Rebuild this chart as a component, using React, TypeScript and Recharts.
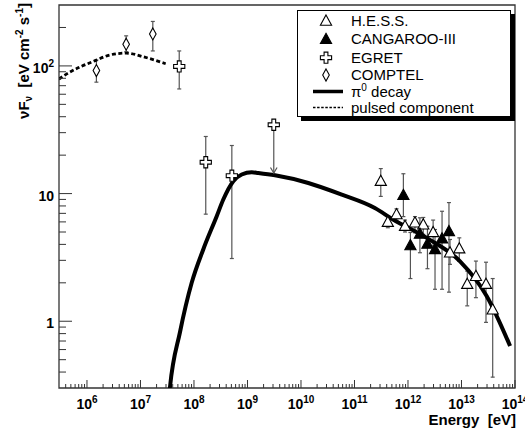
import React from 'react';
import {
  ComposedChart,
  Line,
  Scatter,
  XAxis,
  YAxis,
  ErrorBar,
  ReferenceArea,
  Legend,
} from 'recharts';

const FONT = "'Liberation Sans', Arial, Helvetica, sans-serif";

// ---------- data ----------
const comptelE = [1.5e6, 5.4e6, 1.7e7];
const comptelF = [92, 148, 178];
const comptelLo = [74.6, 129, 131];
const comptelHi = [111, 172, 223];

const egretE = [5.3e7, 1.66e8, 5.1e8];
const egretF = [99, 17.6, 13.8];
const egretLo = [66, 6.9, 3.1];
const egretHi = [131, 28, 23.8];

const egretUlE = [3.1e9];
const egretUlF = [34.6];
const egretUlTo = [14.5];

const hessE = [3.1e11, 4.2e11, 6.1e11, 8.8e11, 1.35e12, 1.93e12, 2.95e12, 6.1e12, 9.1e12, 1.28e13, 1.86e13, 2.87e13, 3.83e13];
const hessF = [12.5, 5.97, 6.85, 5.55, 5.9, 5.7, 4.96, 3.44, 3.7, 1.95, 2.25, 1.95, 1.23];
const hessLo = [9.5, 5.4, 6.2, 5.0, 4.93, 4.8, 3.9, 2.79, 2.94, 1.32, 1.53, 0.98, 0.365];
const hessHi = [15.7, 6.6, 7.6, 6.2, 6.6, 6.5, 6.2, 4.37, 4.5, 2.47, 2.96, 2.9, 2.16];

const cangE = [8.2e11, 1.11e12, 1.67e12, 2.31e12, 3.2e12, 4.33e12, 5.83e12];
const cangF = [9.7, 3.92, 4.83, 4.03, 3.65, 4.43, 5.05];
const cangLo = [6.6, 2.16, 3.44, 2.58, 1.78, 1.78, 1.69];
const cangHi = [14.3, 4.96, 6.46, 5.55, 5.23, 7.27, 8.5];

const pi0E = [3.4e7, 3.56e7, 5.47e7, 9.06e7, 1.49e8, 2.66e8, 3.53e8, 5.43e8, 7.8e8, 1.2e9, 1.59e9, 3.27e9, 1.37e10, 5.8e10, 2.4e11, 5.25e11, 2.24e12, 9.3e12, 2.95e13, 8.1e13];
const pi0F = [0.25, 0.305, 0.82, 2.0, 3.65, 6.65, 8.98, 12.5, 14.1, 14.7, 14.5, 13.9, 12.1, 9.8, 7.7, 6.27, 4.5, 2.96, 1.58, 0.64];

const pulsedE = [3.0e5, 4.2e5, 1.5e6, 2.7e6, 5.4e6, 1.2e7, 2.96e7];
const pulsedF = [79, 86.6, 111, 122, 126, 117, 104];

const X_MAJOR = [1e6, 1e7, 1e8, 1e9, 1e10, 1e11, 1e12, 1e13, 1e14];
const X_DECADES = [1e5, 1e6, 1e7, 1e8, 1e9, 1e10, 1e11, 1e12, 1e13];
const Y_MAJOR = [1, 10, 100];
const Y_DECADES = [0.1, 1, 10, 100];
const MINOR_MULT = [2, 3, 4, 5, 6, 7, 8, 9];

const X_DOMAIN = [3e5, 1e14];
const Y_DOMAIN = [0.3, 300];

const xTicks = [
  ...X_MAJOR,
  ...X_DECADES.flatMap((b) => MINOR_MULT.map((m) => m * b)).filter((v) => v > X_DOMAIN[0] && v < X_DOMAIN[1]),
];
const yTicks = [
  ...Y_MAJOR,
  ...Y_DECADES.flatMap((b) => MINOR_MULT.map((m) => m * b)).filter((v) => v > Y_DOMAIN[0] * 1.01 && v < Y_DOMAIN[1] * 0.99),
];

const withErr = (E: number[], F: number[], lo: number[], hi: number[]) =>
  E.map((e, i) => ({ e, f: F[i], err: [F[i] - lo[i], hi[i] - F[i]] }));

const comptelData = withErr(comptelE, comptelF, comptelLo, comptelHi);
const egretData = withErr(egretE, egretF, egretLo, egretHi);
const hessData = withErr(hessE, hessF, hessLo, hessHi);
const cangData = withErr(cangE, cangF, cangLo, cangHi);
const egretUlData = egretUlE.map((e, i) => ({ e, f: egretUlF[i], err: [egretUlF[i] - egretUlTo[i], 0] }));
const egretArrowData = egretUlE.map((e, i) => ({ e, f: egretUlTo[i] }));
const pi0Data = pi0E.map((e, i) => ({ e, f: pi0F[i] }));
const pulsedData = pulsedE.map((e, i) => ({ e, f: pulsedF[i] }));

// ---------- marker shapes ----------
const triPath = (cx: number, cy: number) =>
  `M${cx},${cy - 6} L${cx + 5.6},${cy + 4.2} L${cx - 5.6},${cy + 4.2} Z`;
const crossPath = (cx: number, cy: number) => {
  const a = 1.9;
  const b = 5.6;
  return `M${cx - a},${cy - b} L${cx + a},${cy - b} L${cx + a},${cy - a} L${cx + b},${cy - a} L${cx + b},${cy + a} L${cx + a},${cy + a} L${cx + a},${cy + b} L${cx - a},${cy + b} L${cx - a},${cy + a} L${cx - b},${cy + a} L${cx - b},${cy - a} L${cx - a},${cy - a} Z`;
};
const diamondPath = (cx: number, cy: number) =>
  `M${cx},${cy - 6} L${cx + 3.3},${cy} L${cx},${cy + 6} L${cx - 3.3},${cy} Z`;

const OpenTri = (p: any) => <path d={triPath(p.cx, p.cy)} fill="#fff" stroke="#000" strokeWidth={1.1} />;
const FullTri = (p: any) => <path d={triPath(p.cx, p.cy)} fill="#000" stroke="#000" strokeWidth={1.1} />;
const OpenCross = (p: any) => <path d={crossPath(p.cx, p.cy)} fill="#fff" stroke="#000" strokeWidth={1.1} />;
const OpenDiamond = (p: any) => <path d={diamondPath(p.cx, p.cy)} fill="#fff" stroke="#000" strokeWidth={1.1} />;
const ArrowHead = (p: any) => (
  <path d={`M${p.cx - 3.3},${p.cy - 5.5} L${p.cx},${p.cy} L${p.cx + 3.3},${p.cy - 5.5}`} fill="none" stroke="#555" strokeWidth={1.2} />
);

// ---------- axis ticks ----------
const XTick = (props: any) => {
  const { x, y, payload } = props;
  const v = payload.value;
  const major = X_MAJOR.includes(v);
  const exp = Math.round(Math.log10(v));
  return (
    <g>
      <line x1={x} x2={x} y1={y} y2={y - (major ? 8 : 4)} stroke="#333" strokeWidth={1} />
      {major && (
        <text x={x} y={y + 21} textAnchor="middle" fontFamily={FONT} fontWeight="bold" fontSize={14} fill="#000">
          <tspan>10</tspan>
          <tspan dy={-6} fontSize={10}>{exp}</tspan>
        </text>
      )}
    </g>
  );
};

const YTick = (props: any) => {
  const { x, y, payload } = props;
  const v = payload.value;
  const major = Y_MAJOR.includes(v);
  const exp = Math.round(Math.log10(v));
  return (
    <g>
      <line x1={x} x2={x + (major ? 13 : 7)} y1={y} y2={y} stroke="#333" strokeWidth={1} />
      {major && (
        <text x={x - 5} y={y + 7} textAnchor="end" fontFamily={FONT} fontWeight="bold" fontSize={14} fill="#000">
          {exp <= 1 ? (
            <tspan>{exp === 0 ? '1' : '10'}</tspan>
          ) : (
            <>
              <tspan>10</tspan>
              <tspan dy={-6} fontSize={10}>{exp}</tspan>
            </>
          )}
        </text>
      )}
    </g>
  );
};

const YTitle = () => (
  <text
    transform="translate(29,3) rotate(-90)"
    textAnchor="end"
    fontFamily={FONT}
    fontWeight="bold"
    fontSize={15}
    fill="#000"
    style={{ whiteSpace: 'pre' }}
  >
    <tspan>νF</tspan>
    <tspan dy={3} fontSize={10}>ν</tspan>
    <tspan dy={-3}>  [eV cm</tspan>
    <tspan dy={-6} fontSize={10}>-2</tspan>
    <tspan dy={6}> s</tspan>
    <tspan dy={-6} fontSize={10}>-1</tspan>
    <tspan dy={6}>]</tspan>
  </text>
);

const XTitle = () => (
  <text x={516} y={425} textAnchor="end" fontFamily={FONT} fontWeight="bold" fontSize={15} fill="#000" style={{ whiteSpace: 'pre' }}>
    Energy  [eV]
  </text>
);

// ---------- legend ----------
const legendRows = ['H.E.S.S.', 'CANGAROO-III', 'EGRET', 'COMPTEL', 'decay', 'pulsed component'];
const rowBase = [15, 33.3, 51.7, 69, 85.5, 101.5];

const LegendBox = () => (
  <div
    style={{
      width: 214,
      height: 107,
      boxSizing: 'border-box',
      border: '1px solid #000',
      background: '#fff',
      boxShadow: '4px 4px 0 #000',
    }}
  >
    <svg width={212} height={105} style={{ display: 'block', overflow: 'visible' }}>
      <path d={triPath(28, rowBase[0] - 5)} fill="#fff" stroke="#000" strokeWidth={1.1} />
      <path d={triPath(28, rowBase[1] - 5)} fill="#000" stroke="#000" strokeWidth={1.1} />
      <path d={crossPath(28, rowBase[2] - 5)} fill="#fff" stroke="#000" strokeWidth={1.1} />
      <path d={diamondPath(28, rowBase[3] - 5)} fill="#fff" stroke="#000" strokeWidth={1.1} />
      <line x1={15} x2={45} y1={rowBase[4] - 5} y2={rowBase[4] - 5} stroke="#000" strokeWidth={3.5} />
      <line x1={15} x2={45} y1={rowBase[5] - 5} y2={rowBase[5] - 5} stroke="#000" strokeWidth={1.6} strokeDasharray="2.5 1.6" />
      {legendRows.map((t, i) => (
        <text key={t} x={53} y={rowBase[i]} fontFamily={FONT} fontSize={15} fill="#000">
          {i === 4 ? (
            <>
              <tspan>π</tspan>
              <tspan dy={-6} fontSize={10}>0</tspan>
              <tspan dy={6}> decay</tspan>
            </>
          ) : (
            t
          )}
        </text>
      ))}
    </svg>
  </div>
);

export default function App() {
  return (
    <div style={{ position: 'absolute', left: 0, top: 0, width: 525, height: 432, background: '#fff' }}>
      <ComposedChart width={525} height={432} margin={{ top: 5, right: 10, bottom: 0, left: 0 }}>
        <XAxis
          dataKey="e"
          type="number"
          scale="log"
          domain={X_DOMAIN}
          allowDataOverflow
          ticks={xTicks}
          interval={0}
          tick={<XTick />}
          tickLine={false}
          tickSize={0}
          tickMargin={0}
          axisLine={false}
          height={44}
          label={{ content: () => <XTitle /> }}
        />
        <YAxis
          dataKey="f"
          type="number"
          scale="log"
          domain={Y_DOMAIN}
          allowDataOverflow
          ticks={yTicks}
          interval={0}
          tick={<YTick />}
          tickLine={false}
          tickSize={0}
          tickMargin={0}
          axisLine={false}
          width={59}
          label={{ content: () => <YTitle /> }}
        />
        <ReferenceArea
          x1={X_DOMAIN[0]}
          x2={X_DOMAIN[1]}
          y1={Y_DOMAIN[0]}
          y2={Y_DOMAIN[1]}
          fill="none"
          stroke="#333"
          strokeWidth={1.3}
          ifOverflow="visible"
        />
        <Scatter data={comptelData} dataKey="f" shape={<OpenDiamond />} isAnimationActive={false}>
          <ErrorBar dataKey="err" direction="y" width={2} stroke="#555" strokeWidth={1.2} />
        </Scatter>
        <Scatter data={egretData} dataKey="f" shape={<OpenCross />} isAnimationActive={false}>
          <ErrorBar dataKey="err" direction="y" width={2} stroke="#555" strokeWidth={1.2} />
        </Scatter>
        <Scatter data={egretUlData} dataKey="f" shape={<OpenCross />} isAnimationActive={false}>
          <ErrorBar dataKey="err" direction="y" width={0} stroke="#555" strokeWidth={1.2} />
        </Scatter>
        <Scatter data={egretArrowData} dataKey="f" shape={<ArrowHead />} isAnimationActive={false} />
        <Scatter data={hessData} dataKey="f" shape={<OpenTri />} isAnimationActive={false}>
          <ErrorBar dataKey="err" direction="y" width={2} stroke="#555" strokeWidth={1.2} />
        </Scatter>
        <Scatter data={cangData} dataKey="f" shape={<FullTri />} isAnimationActive={false}>
          <ErrorBar dataKey="err" direction="y" width={2} stroke="#555" strokeWidth={1.2} />
        </Scatter>
        <Line
          data={pulsedData}
          dataKey="f"
          type="monotone"
          stroke="#000"
          strokeWidth={2.8}
          strokeDasharray="4 2.5"
          dot={false}
          activeDot={false}
          isAnimationActive={false}
        />
        <Line
          data={pi0Data}
          dataKey="f"
          type="monotone"
          stroke="#000"
          strokeWidth={4}
          dot={false}
          activeDot={false}
          isAnimationActive={false}
        />
        <Legend
          layout="horizontal"
          verticalAlign="middle"
          align="center"
          wrapperStyle={{ position: 'absolute', left: 297, top: 10, width: 214, height: 107 }}
          content={() => <LegendBox />}
        />
      </ComposedChart>
    </div>
  );
}
